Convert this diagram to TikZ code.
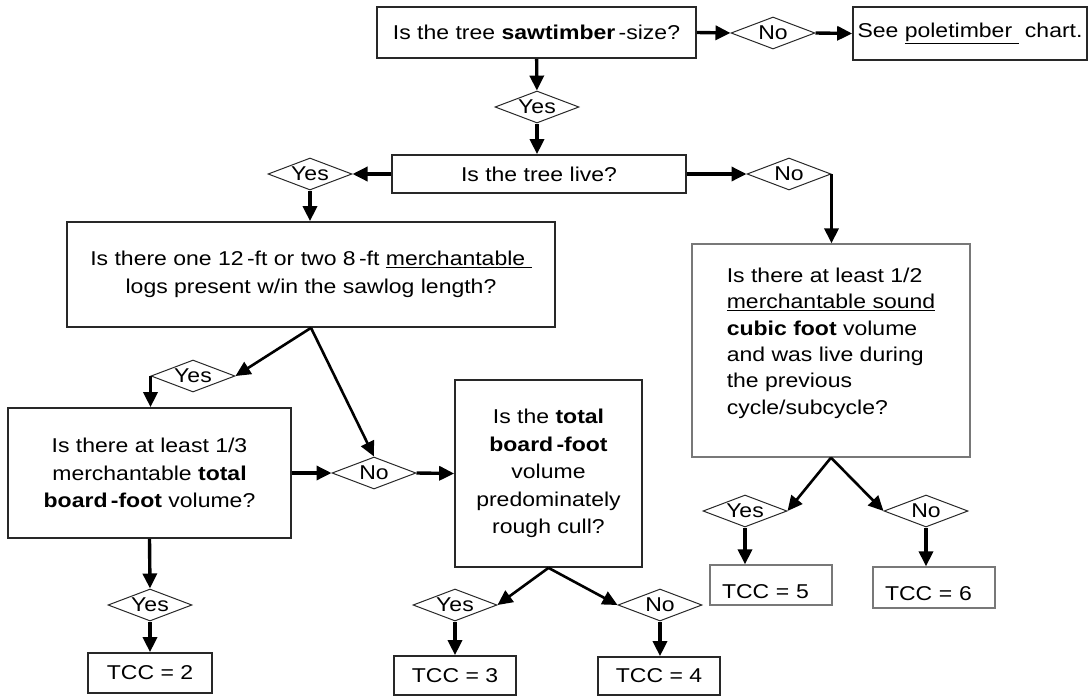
\documentclass[tikz,border=0pt]{standalone}
\usepackage{fontspec}
\setmainfont{Liberation Sans}[FakeStretch=1.15]
\usetikzlibrary{shapes.geometric,arrows.meta}
\definecolor{boxline}{RGB}{40,40,40}
\definecolor{softline}{RGB}{120,120,120}
\tikzset{
  qbox/.style={draw=boxline,line width=1.7pt,inner sep=0pt,align=center,font=\fontsize{20}{27.5}\selectfont},
  lightbox/.style={qbox,draw=softline,line width=1.3pt},
  lowleft/.style={text width=98pt,align=left,text height=26pt,text depth=0pt},
  answer/.style={shape=diamond,aspect=2.6,draw=boxline,line width=1pt,inner sep=0pt,minimum width=84pt,minimum height=32pt,font=\fontsize{20}{22}\selectfont},
  flow/.style={-{Triangle[length=15pt,width=14pt]},line width=3.4pt},
  slant/.style={flow,line width=2.6pt},
}
\begin{document}
\begin{tikzpicture}[x=1pt,y=-1pt]
\useasboundingbox (0,0) rectangle (1089,696);
% question boxes
\node[qbox,minimum width=319pt,minimum height=51pt] (size) at (536.5,32.5) {Is the tree \textbf{sawtimber}\,-size?};
\node[qbox,minimum width=234pt,minimum height=53pt] (pole) at (970,33.5) {See \underline{poletimber\ } chart.};
\node[qbox,minimum width=294pt,minimum height=38pt] (live) at (539,174) {Is the tree live?};
\node[qbox,minimum width=488pt,minimum height=105pt] (logs) at (311,274.5) {Is there one 12\,-ft or two 8\,-ft \underline{merchantable\ }\\logs present w/in the sawlog length?};
\node[qbox,minimum width=283pt,minimum height=130pt] (third) at (149.5,473) {Is there at least 1/3\\merchantable \textbf{total}\\\textbf{board\,-foot} volume?};
\node[qbox,minimum width=187pt,minimum height=187pt] (cull) at (548.5,473.5) {Is the \textbf{total}\\\textbf{board\,-foot}\\volume\\predominately\\rough cull?};
\node[lightbox,minimum width=278pt,minimum height=213pt,align=left,text depth=19pt,font=\fontsize{20}{26.3}\selectfont] (half) at (831,350.5) {Is there at least 1/2\\\underline{merchantable sound}\\\textbf{cubic foot} volume\\and was live during\\the previous\\cycle/subcycle?};
% results
\node[qbox,minimum width=124pt,minimum height=40pt] (tccTwo) at (150,673) {TCC = 2};
\node[qbox,minimum width=122pt,minimum height=39pt] (tccThree) at (455,675.5) {TCC = 3};
\node[qbox,minimum width=122pt,minimum height=38pt] (tccFour) at (659,676) {TCC = 4};
\node[lightbox,lowleft,minimum width=122pt,minimum height=40pt] (tccFive) at (771,585) {TCC = 5};
\node[lightbox,lowleft,minimum width=122pt,minimum height=41pt] (tccSix) at (934,587.5) {TCC = 6};
% answers
\node[answer] (yesSize) at (537,107) {Yes};
\node[answer] (noSize) at (773,33) {No};
\node[answer] (yesLive) at (310,174) {Yes};
\node[answer] (noLive) at (789,174) {No};
\node[answer] (yesLogs) at (193,376) {Yes};
\node[answer] (noLogs) at (374,473) {No};
\node[answer] (yesThird) at (150,605) {Yes};
\node[answer] (yesCull) at (455,605) {Yes};
\node[answer] (noCull) at (660,605) {No};
\node[answer] (yesHalf) at (745,511) {Yes};
\node[answer] (noHalf) at (926,511) {No};
% connectors
\draw[flow] (size) -- (yesSize);
\draw[flow] (yesSize.south) -- (yesSize.south |- live.north);
\draw[flow] (size.east) -- (noSize.west);
\draw[flow] (noSize.east) -- (pole.west);
\draw[flow] (live.west) -- (yesLive.east);
\draw[flow] (live.east) -- (noLive.west);
\draw[flow] (noLive.east) -- (noLive.east |- half.north);
\draw[flow] (yesLive.south) -- (yesLive.south |- logs.north);
\draw[slant] (logs.south) -- (yesLogs.east);
\draw[slant] (logs.south) -- (noLogs.north);
\draw[flow] (yesLogs.west) -- (yesLogs.west |- third.north);
\draw[flow] (third.east) -- (noLogs.west);
\draw[flow] (noLogs.east) -- (cull.west);
\draw[flow] (third.south) -- (yesThird.north);
\draw[flow] (yesThird.south) -- (tccTwo.north);
\draw[slant] (cull.south) -- (yesCull.east);
\draw[slant] (cull.south) -- (noCull.west);
\draw[flow] (yesCull.south) -- (tccThree.north);
\draw[flow] (noCull.south) -- (noCull.south |- tccFour.north);
\draw[slant] (half.south) -- (yesHalf.east);
\draw[slant] (half.south) -- (noHalf.west);
\draw[flow] (yesHalf.south) -- (yesHalf.south |- tccFive.north);
\draw[flow] (noHalf.south) -- (noHalf.south |- tccSix.north);
\end{tikzpicture}
\end{document}
